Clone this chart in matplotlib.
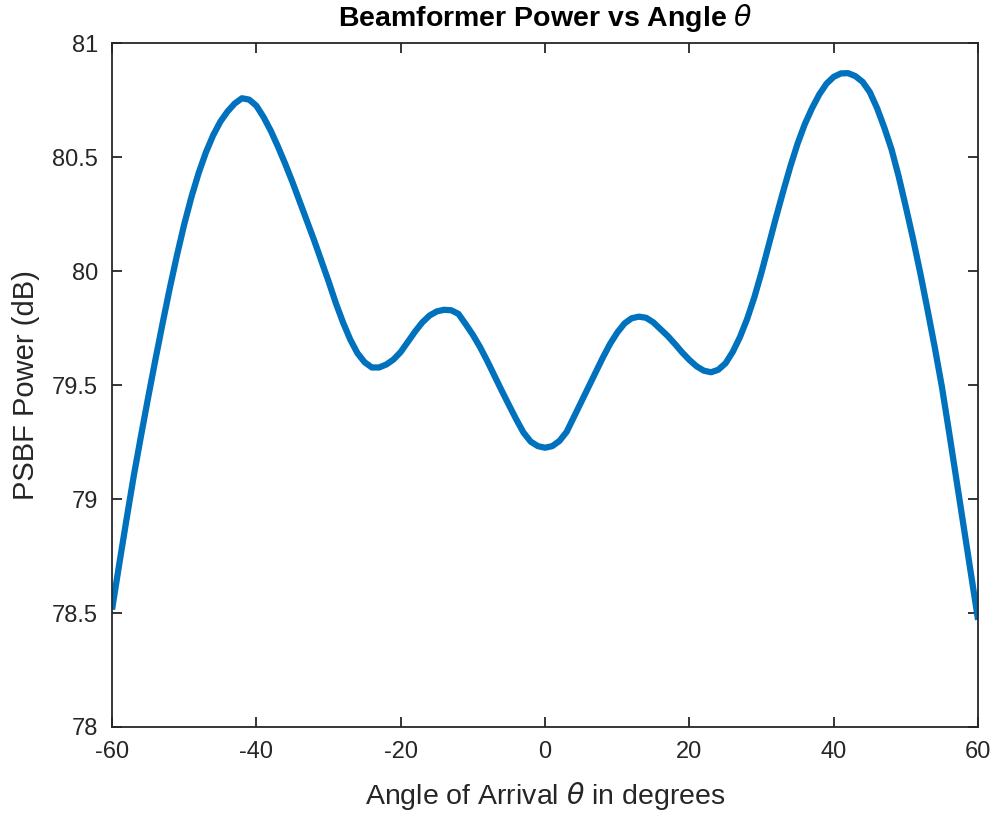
import numpy as np
import matplotlib
matplotlib.use("Agg")
import matplotlib.pyplot as plt

# angles, 1 degree steps
angles = np.arange(-60, 61, 1)
power_db = [
    78.515, 78.715, 78.91, 79.10, 79.275, 79.445, 79.61, 79.77, 79.925, 80.07,
    80.205, 80.325, 80.43, 80.52, 80.595, 80.655, 80.70, 80.735, 80.758, 80.752,
    80.725, 80.675, 80.615, 80.545, 80.47, 80.39, 80.305, 80.22, 80.135, 80.045,
    79.955, 79.86, 79.775, 79.70, 79.64, 79.60, 79.577, 79.577, 79.59, 79.612,
    79.645, 79.69, 79.735, 79.775, 79.805, 79.823, 79.83, 79.828, 79.812, 79.767,
    79.72, 79.666, 79.605, 79.54, 79.475, 79.412, 79.35, 79.292, 79.252, 79.232,
    79.225,
    79.232, 79.255, 79.295, 79.36, 79.425, 79.49, 79.555, 79.62, 79.68, 79.73,
    79.77, 79.793, 79.80, 79.795, 79.775, 79.745, 79.715, 79.68, 79.643, 79.61,
    79.582, 79.563, 79.556, 79.567, 79.595, 79.645, 79.71, 79.79, 79.885, 79.995,
    80.115, 80.235, 80.35, 80.46, 80.56, 80.645, 80.715, 80.775, 80.822, 80.852,
    80.867, 80.868, 80.855, 80.83, 80.785, 80.715, 80.63, 80.535, 80.415, 80.28,
    80.14, 79.99, 79.83, 79.665, 79.49, 79.29, 79.085, 78.88, 78.675, 78.47,
]
xticks = [-60, -40, -20, 0, 20, 40, 60]
yticks = [78, 78.5, 79, 79.5, 80, 80.5, 81]
ytick_labels = ["78", "78.5", "79", "79.5", "80", "80.5", "81"]

plt.rcParams["font.family"] = ["Liberation Sans", "DejaVu Sans"]
plt.rcParams["mathtext.fontset"] = "dejavusans"
plt.rcParams["axes.unicode_minus"] = False

fig = plt.figure(figsize=(9.96, 8.13), dpi=100)
ax = fig.add_axes([0.1125, 0.1058, 0.8695, 0.8412])

ax.plot(angles, power_db, color="#0072BD", linewidth=4.5,
        solid_capstyle="butt", solid_joinstyle="round")

ax.set_xlim(-60, 60)
ax.set_ylim(78, 81)
ax.set_xticks(xticks)
ax.set_yticks(yticks)
ax.set_yticklabels(ytick_labels)
ax.tick_params(direction="in", length=7, width=1.3, top=True, right=True,
               labelsize=17, colors="#262626", pad=10)
for s in ax.spines.values():
    s.set_linewidth(1.3)
    s.set_color("#262626")

ax.set_title(r"Beamformer Power vs Angle $\theta$", fontsize=20.5, fontweight="bold", pad=12)
ax.set_xlabel(r"Angle of Arrival $\theta$ in degrees", fontsize=20.5, color="#262626", labelpad=12)
ax.set_ylabel("PSBF Power (dB)", fontsize=21, color="#262626", labelpad=9)

plt.savefig("out.png", dpi=100)
